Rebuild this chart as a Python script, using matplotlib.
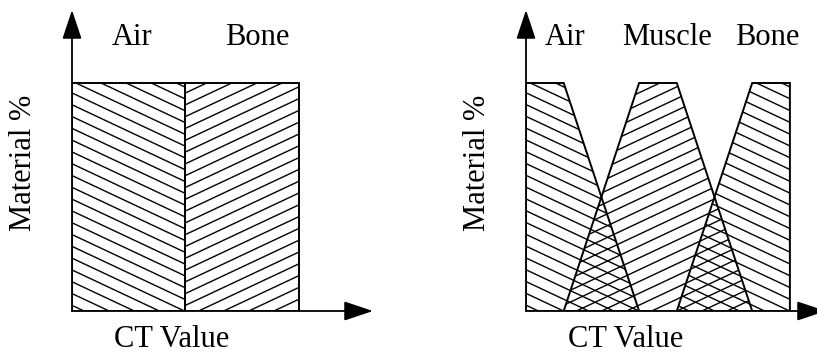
import numpy as np
import matplotlib.pyplot as plt
from matplotlib.patches import Polygon
from matplotlib.collections import LineCollection

plt.rcParams['font.family'] = ['Liberation Serif', 'DejaVu Serif']

# two-material model (left)
two_air_x = [0, 0, 1, 1]
two_air_y = [0, 1, 1, 0]
two_bone_x = [1, 1, 2, 2]
two_bone_y = [0, 1, 1, 0]

# three-material model (right)
three_air_x = [0, 0, 1, 3]
three_air_y = [0, 1, 1, 0]
three_muscle_x = [1, 3, 4, 6]
three_muscle_y = [0, 1, 1, 0]
three_bone_x = [4, 6, 7, 7]
three_bone_y = [0, 1, 1, 0]

left_labels = ["Air", "Bone"]
left_label_x = [0.53, 1.63]
right_labels = ["Air", "Muscle", "Bone"]
right_label_x = [1.03, 3.74, 6.39]

W, H = 817, 353
fig = plt.figure(figsize=(W / 100, H / 100), dpi=100)

# ejes colocados en pixeles
ax1 = fig.add_axes([72 / W, 42 / H, 301 / W, 301 / H])
ax1.set_xlim(0, 301 / 113.5)
ax1.set_ylim(0, 301 / 228)
ax2 = fig.add_axes([526 / W, 42 / H, 291 / W, 301 / H])
ax2.set_xlim(0, 291 / 37.7)
ax2.set_ylim(0, 301 / 228)


def hatched(ax, xs, ys, direction):
    patch = Polygon(np.column_stack([xs, ys]), closed=True, fill=False,
                    edgecolor="black", lw=1.4, zorder=3)
    ax.add_patch(patch)
    sx = ax.bbox.width / np.diff(ax.get_xlim())[0]
    sy = ax.bbox.height / np.diff(ax.get_ylim())[0]
    m = direction * 0.47 * sx / sy
    step = 11.8 / sy
    x0, x1 = min(xs), max(xs)
    span = abs(m) * (x1 - x0)
    cs = np.arange(-span - step, 1 + span + step, step)
    segs = [[(x0, c), (x1, c + m * (x1 - x0))] for c in cs]
    lc = LineCollection(segs, colors="black", linewidths=1.0, zorder=2)
    ax.add_collection(lc, autolim=False)
    lc.set_clip_path(patch)


def arrows(ax, xtip, ytip):
    props = dict(arrowstyle="-|>,head_length=1.8,head_width=0.6",
                 lw=1.3, color="black", shrinkA=0, shrinkB=0)
    ax.annotate("", xy=(0, ytip), xytext=(0, 0), arrowprops=props,
                annotation_clip=False)
    ax.annotate("", xy=(xtip, 0), xytext=(0, 0), arrowprops=props,
                annotation_clip=False)


hatched(ax1, two_air_x, two_air_y, -1)
hatched(ax1, two_bone_x, two_bone_y, 1)
arrows(ax1, 301 / 113.5, 301 / 228)

hatched(ax2, three_air_x, three_air_y, -1)
hatched(ax2, three_muscle_x, three_muscle_y, 1)
hatched(ax2, three_bone_x, three_bone_y, -1)
arrows(ax2, 300 / 37.7, 301 / 228)

fs = 22
for lab, x in zip(left_labels, left_label_x):
    ax1.text(x, 1.167, lab, ha="center", va="baseline", fontsize=fs)
for lab, x in zip(right_labels, right_label_x):
    ax2.text(x, 1.167, lab, ha="center", va="baseline", fontsize=fs)

ax1.text(0.88, -0.158, "CT Value", ha="center", va="baseline", fontsize=fs)
ax2.text(2.63, -0.158, "CT Value", ha="center", va="baseline", fontsize=fs)
ax1.text(-0.423, 0.649, "Material %", rotation=90, ha="center", va="center", fontsize=fs)
ax2.text(-1.29, 0.649, "Material %", rotation=90, ha="center", va="center", fontsize=fs)

for ax in (ax1, ax2):
    ax.axis("off")

fig.savefig("out.png", dpi=100)
